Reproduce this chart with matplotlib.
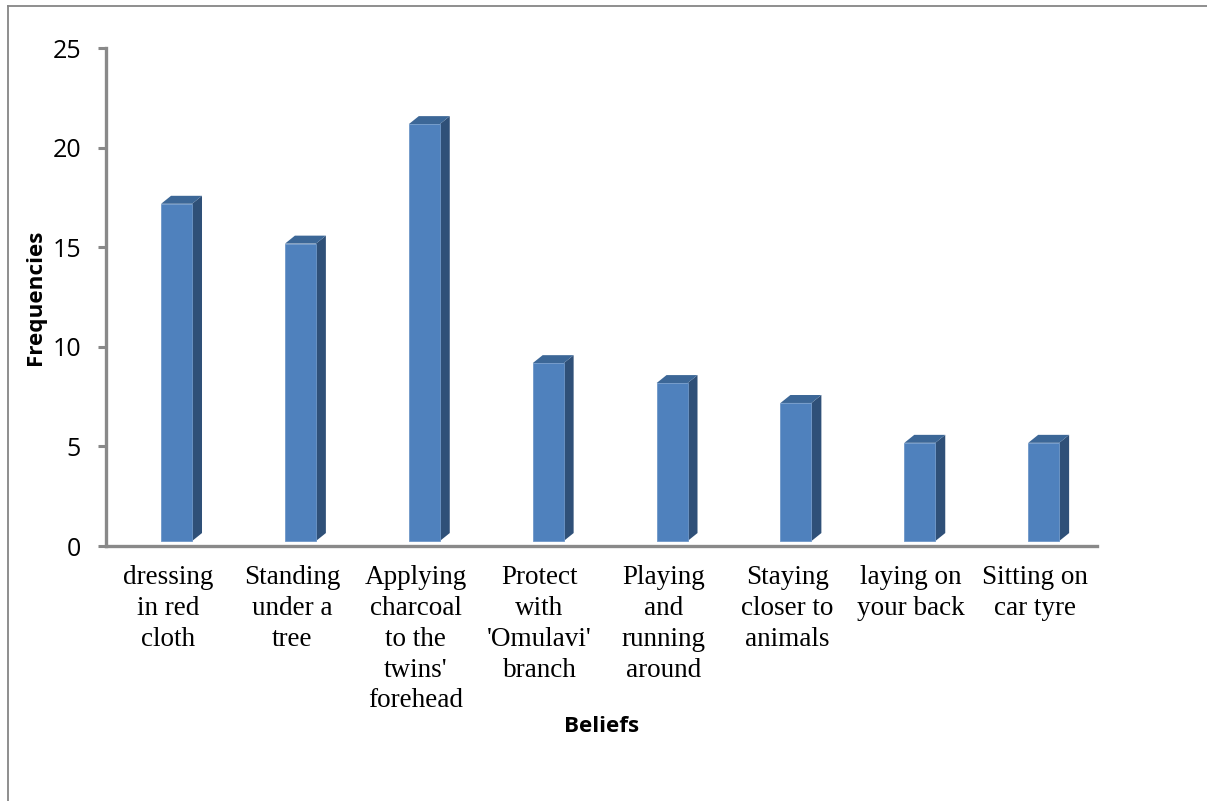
import numpy as np
import matplotlib.pyplot as plt
from matplotlib.patches import Polygon, Rectangle
from matplotlib.lines import Line2D

# beliefs and how often each was reported
beliefs = ["dressing\nin red\ncloth", "Standing\nunder a\ntree",
           "Applying\ncharcoal\nto the\ntwins'\nforehead", "Protect\nwith\n'Omulavi'\nbranch",
           "Playing\nand\nrunning\naround", "Staying\ncloser to\nanimals",
           "laying on\nyour back", "Sitting on\ncar tyre"]
frequencies = [17, 15, 21, 9, 8, 7, 5, 5]
y_ticks = [0, 5, 10, 15, 20, 25]

front_col = '#4F81BD'
side_col = '#2F5078'
top_col = '#3C6797'
axis_col = '#898989'

fig = plt.figure(figsize=(12.07, 8.01), dpi=100)
ax = fig.add_axes([106/1207, 1-546/801, (1097-106)/1207, (546-48)/801])

x = np.arange(1, len(frequencies) + 1)
w = 0.25      # front face width (category units)
shift = 0.07  # front face offset to the right
base = 0.25   # front face lifted off the floor
dx, dy = 0.08, 0.4  # 3d depth offsets

for xi, v in zip(x, frequencies):
    x0 = xi + shift - w / 2
    x1 = x0 + w
    y0 = base
    y1 = v + 0.18
    # side face
    ax.add_patch(Polygon([(x1, y0), (x1 + dx, y0 + dy), (x1 + dx, y1 + dy), (x1, y1)],
                         closed=True, facecolor=side_col, edgecolor='none', zorder=2))
    # top face
    ax.add_patch(Polygon([(x0, y1), (x0 + dx, y1 + dy), (x1 + dx, y1 + dy), (x1, y1)],
                         closed=True, facecolor=top_col, edgecolor='none', zorder=2))
    # front face
    ax.add_patch(Rectangle((x0, y0), w, y1 - y0, facecolor=front_col,
                           edgecolor='#6E97C8', linewidth=0.6, zorder=3))

ax.set_xlim(0.5, len(frequencies) + 0.5)
ax.set_ylim(0, 25)
ax.set_yticks(y_ticks)
ax.set_xticks(x)
ax.set_xticklabels(beliefs, family='Liberation Serif', fontsize=19.5, linespacing=1.3)
ax.tick_params(axis='x', length=0, pad=14)
ax.tick_params(axis='y', length=6, width=2.2, color=axis_col, pad=12, labelsize=18)
for lab in ax.get_yticklabels():
    lab.set_family('Open Sans')

for s in ['top', 'right']:
    ax.spines[s].set_visible(False)
for s in ['left', 'bottom']:
    ax.spines[s].set_color(axis_col)
    ax.spines[s].set_linewidth(2.4)

ax.set_ylabel('Frequencies', family='Open Sans', fontweight='bold', fontsize=16.2)
ax.yaxis.set_label_coords(-0.0605, 0.5)
ax.set_xlabel('Beliefs', family='Open Sans', fontweight='bold', fontsize=16.2)
ax.xaxis.set_label_coords(0.5, -0.341)

# outer frame of the chart area
fig.add_artist(Line2D([8/1207, 8/1207], [0, 1-6/801], color='#868686', linewidth=1.3))
fig.add_artist(Line2D([8/1207, 1], [1-6/801, 1-6/801], color='#868686', linewidth=1.3))

fig.savefig('out.png', dpi=100)
